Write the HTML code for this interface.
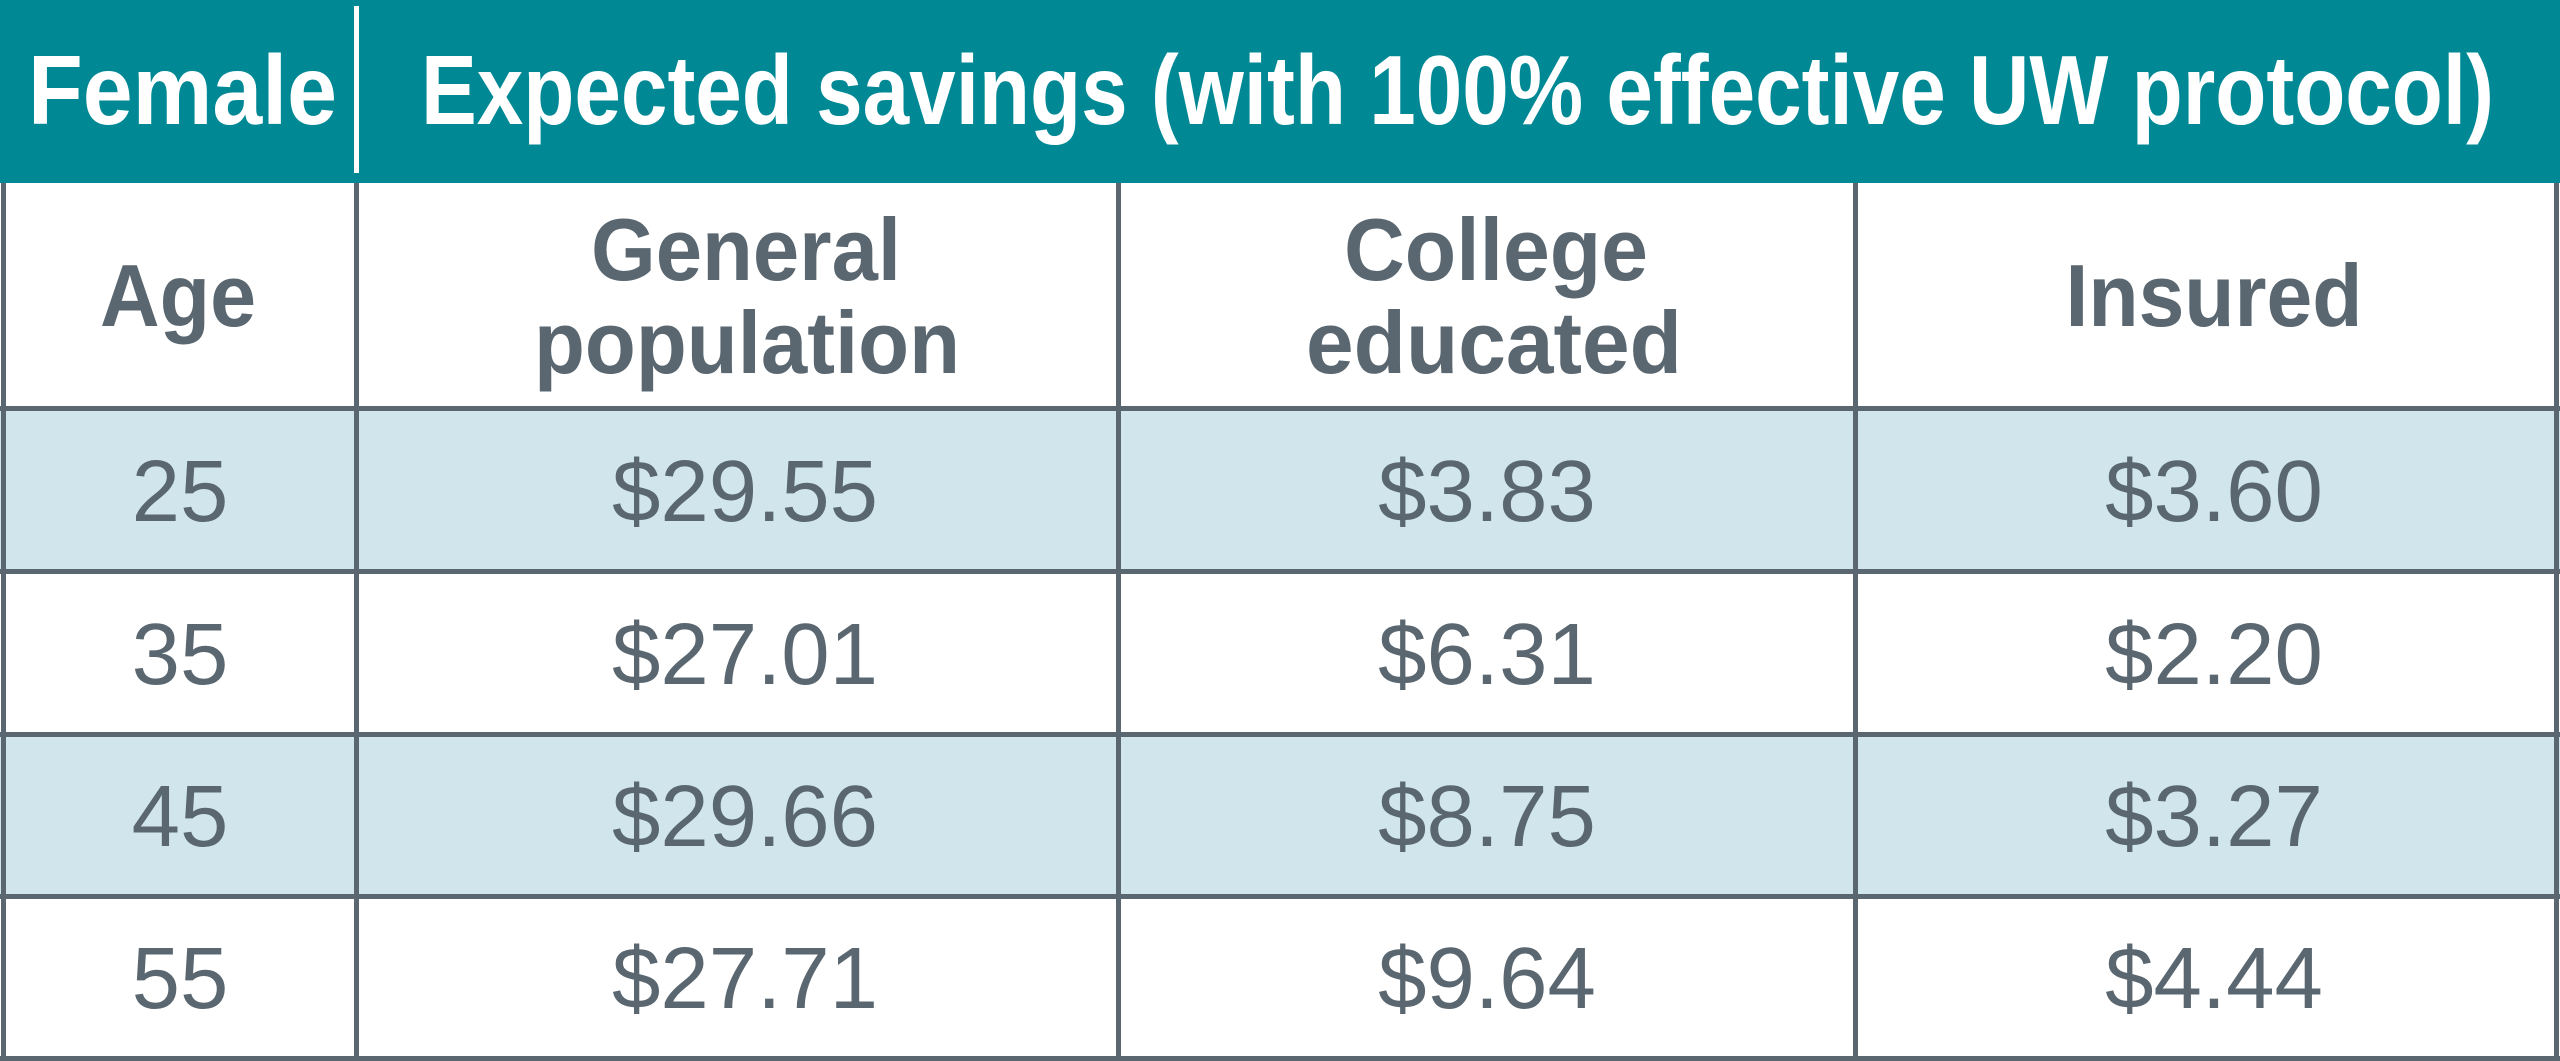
<!DOCTYPE html>
<html><head><meta charset="utf-8"><style>
html,body{margin:0;padding:0;background:#fff;}
svg{display:block;}
text{font-family:"Liberation Sans",sans-serif;fill:#5a6770;text-anchor:middle;}
.h{font-weight:bold;font-size:88px;}
.d{font-size:87px;}
.w{fill:#fff;font-weight:bold;font-size:98px;text-anchor:start;}
</style></head><body>
<svg width="2560" height="1061" viewBox="0 0 2560 1061">
<rect x="0" y="0" width="2560" height="1061" fill="#fff"/>
<rect x="0" y="0" width="2560" height="183" fill="#008995"/>
<rect x="354" y="6" width="5" height="167" fill="#fff"/>
<text class="w" x="28" y="124" textLength="309" lengthAdjust="spacingAndGlyphs">Female</text>
<text class="w" x="421" y="124" textLength="2073" lengthAdjust="spacingAndGlyphs">Expected savings (with 100% effective UW protocol)</text>
<rect x="0" y="409" width="2560" height="163" fill="#d0e6ec"/>
<rect x="0" y="734" width="2560" height="163" fill="#d0e6ec"/>
<g fill="#5a6770">
<rect x="1" y="183" width="5" height="878"/>
<rect x="354" y="183" width="5" height="878"/>
<rect x="1116" y="183" width="5" height="878"/>
<rect x="1853" y="183" width="5" height="878"/>
<rect x="2554" y="183" width="5" height="878"/>
<rect x="0" y="406" width="2560" height="5"/>
<rect x="0" y="569" width="2560" height="5"/>
<rect x="0" y="732" width="2560" height="5"/>
<rect x="0" y="894" width="2560" height="5"/>
<rect x="0" y="1056" width="2560" height="5"/>
</g>
<text class="h" x="178" y="326" textLength="156" lengthAdjust="spacingAndGlyphs">Age</text>
<text class="h" x="746" y="280" textLength="310" lengthAdjust="spacingAndGlyphs">General</text>
<text class="h" x="747" y="373" textLength="426" lengthAdjust="spacingAndGlyphs">population</text>
<text class="h" x="1496" y="280" textLength="304" lengthAdjust="spacingAndGlyphs">College</text>
<text class="h" x="1494" y="373" textLength="376" lengthAdjust="spacingAndGlyphs">educated</text>
<text class="h" x="2214" y="326" textLength="297" lengthAdjust="spacingAndGlyphs">Insured</text>
<g class="d">
<text class="d" x="180" y="521">25</text>
<text class="d" x="745" y="521">$29.55</text>
<text class="d" x="1487" y="521">$3.83</text>
<text class="d" x="2214" y="521">$3.60</text>
<text class="d" x="180" y="684">35</text>
<text class="d" x="745" y="684">$27.01</text>
<text class="d" x="1487" y="684">$6.31</text>
<text class="d" x="2214" y="684">$2.20</text>
<text class="d" x="180" y="846">45</text>
<text class="d" x="745" y="846">$29.66</text>
<text class="d" x="1487" y="846">$8.75</text>
<text class="d" x="2214" y="846">$3.27</text>
<text class="d" x="180" y="1008">55</text>
<text class="d" x="745" y="1008">$27.71</text>
<text class="d" x="1487" y="1008">$9.64</text>
<text class="d" x="2214" y="1008">$4.44</text>
</g>
</svg>
</body></html>
